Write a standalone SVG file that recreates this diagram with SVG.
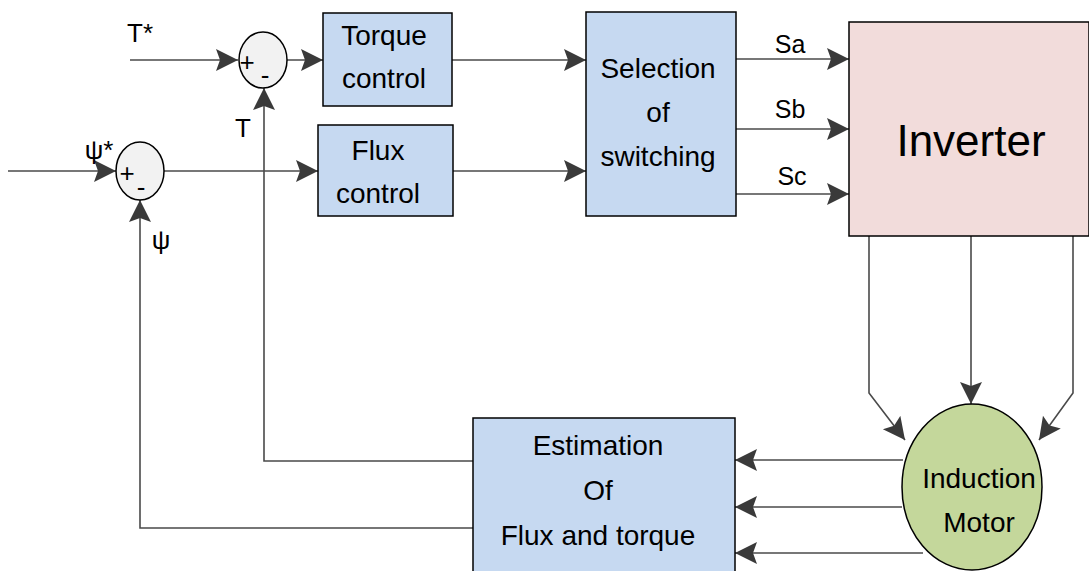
<svg xmlns="http://www.w3.org/2000/svg" width="1089" height="571" viewBox="0 0 1089 571">
<style>
.box{fill:#c6d9f1;stroke:#000;stroke-width:1.5}
.sum{fill:#f2f2f2;stroke:#000;stroke-width:1.5}
.ln{fill:none;stroke:#4a4a4a;stroke-width:1.6}
.t{font-family:"Liberation Sans",Arial,sans-serif;fill:#000;text-anchor:middle}
.bt{font-size:28px}
.lb{font-size:26px}
.sg{font-size:25px}
.pm{font-size:26px}
</style>
<defs>
<marker id="ah" markerUnits="userSpaceOnUse" markerWidth="24" markerHeight="24" refX="22" refY="11" orient="auto">
<path d="M0,0 L22,11 L0,22 L4,11 z" fill="#3a3a3a"/>
</marker>
</defs>
<rect width="1089" height="571" fill="#fff"/>
<g id="connectors">
<path class="ln" d="M130,60 H238" marker-end="url(#ah)"/>
<path class="ln" d="M287,60 H323" marker-end="url(#ah)"/>
<path class="ln" d="M8,171 H116" marker-end="url(#ah)"/>
<path class="ln" d="M164,171 H318" marker-end="url(#ah)"/>
<path class="ln" d="M452,60 H586" marker-end="url(#ah)"/>
<path class="ln" d="M453,171 H586" marker-end="url(#ah)"/>
<path class="ln" d="M736,59 H849" marker-end="url(#ah)"/>
<path class="ln" d="M736,129 H849" marker-end="url(#ah)"/>
<path class="ln" d="M736,194 H849" marker-end="url(#ah)"/>
<path class="ln" d="M869,236 V393 L905,440" marker-end="url(#ah)"/>
<path class="ln" d="M971,236 V404" marker-end="url(#ah)"/>
<path class="ln" d="M1073,236 V393 L1039,440" marker-end="url(#ah)"/>
<path class="ln" d="M903,460 H735" marker-end="url(#ah)"/>
<path class="ln" d="M902,507 H735" marker-end="url(#ah)"/>
<path class="ln" d="M923,553 H735" marker-end="url(#ah)"/>
<path class="ln" d="M473,461 H264 V88" marker-end="url(#ah)"/>
<path class="ln" d="M473,528 H140 V200" marker-end="url(#ah)"/>
</g>
<g id="labels">
<text class="t lb" x="140" y="42">T*</text>
<text class="t lb" x="243" y="137">T</text>
<text class="t lb" x="99" y="159">ψ*</text>
<text class="t lb" x="161" y="249">ψ</text>
<text class="t sg" x="790" y="53">Sa</text>
<text class="t sg" x="790" y="118">Sb</text>
<text class="t sg" x="792" y="185">Sc</text>
</g>
<g id="sum-torque">
<ellipse class="sum" cx="263" cy="60" rx="24" ry="28"/>
<text class="t pm" x="247" y="71">+</text>
<text class="t pm" x="265" y="84">-</text>
</g>
<g id="sum-flux">
<ellipse class="sum" cx="140" cy="171" rx="24" ry="29"/>
<text class="t pm" x="127" y="182">+</text>
<text class="t pm" x="141" y="196">-</text>
</g>
<g id="torque-control">
<rect class="box" x="323" y="13" width="129" height="93"/>
<text class="t bt" x="384" y="45">Torque</text>
<text class="t bt" x="384" y="88">control</text>
</g>
<g id="flux-control">
<rect class="box" x="318" y="125" width="135" height="91"/>
<text class="t bt" x="378" y="160">Flux</text>
<text class="t bt" x="378" y="203">control</text>
</g>
<g id="selection">
<rect class="box" x="586" y="12" width="150" height="204"/>
<text class="t bt" x="658" y="78">Selection</text>
<text class="t bt" x="658" y="122">of</text>
<text class="t bt" x="658" y="166">switching</text>
</g>
<g id="inverter">
<rect x="849" y="22" width="240" height="214" fill="#f2dcdb" stroke="#000" stroke-width="1.5"/>
<text class="t" x="971" y="156" font-size="44">Inverter</text>
</g>
<g id="motor">
<ellipse cx="972" cy="487" rx="70" ry="83" fill="#c4d79b" stroke="#000" stroke-width="1.5"/>
<text class="t bt" x="979" y="488">Induction</text>
<text class="t bt" x="979" y="532">Motor</text>
</g>
<g id="estimation">
<rect class="box" x="473" y="418" width="262" height="160"/>
<text class="t bt" x="598" y="455">Estimation</text>
<text class="t bt" x="598" y="500">Of</text>
<text class="t bt" x="598" y="545">Flux and torque</text>
</g>
</svg>
